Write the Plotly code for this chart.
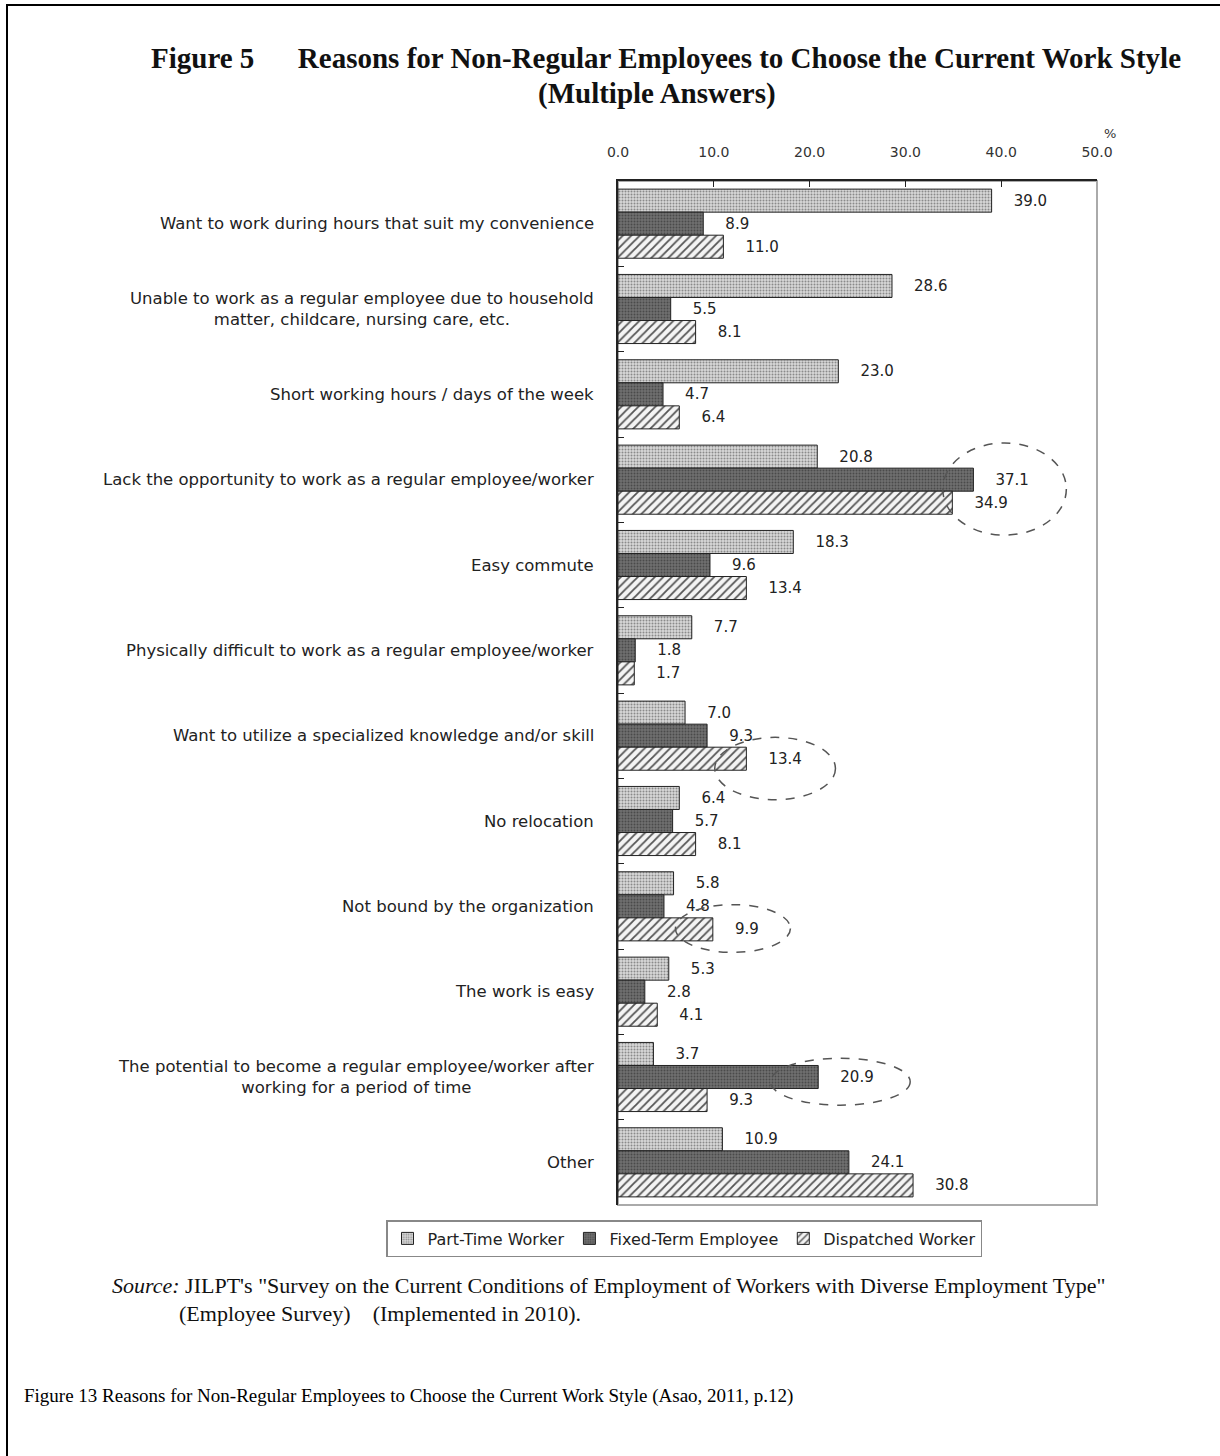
import plotly.graph_objects as go

# Survey categories (top to bottom) and shares by employment type (%)
categories = [
    "Want to work during hours that suit my convenience",
    "Unable to work as a regular employee due to household<br>matter, childcare, nursing care, etc.",
    "Short working hours / days of the week",
    "Lack the opportunity to work as a regular employee/worker",
    "Easy commute",
    "Physically difficult to work as a regular employee/worker",
    "Want to utilize a specialized knowledge and/or skill",
    "No relocation",
    "Not bound by the organization",
    "The work is easy",
    "The potential to become a regular employee/worker after<br>working for a period of time",
    "Other",
]
part_time = [39.0, 28.6, 23.0, 20.8, 18.3, 7.7, 7.0, 6.4, 5.8, 5.3, 3.7, 10.9]
fixed_term = [8.9, 5.5, 4.7, 37.1, 9.6, 1.8, 9.3, 5.7, 4.8, 2.8, 20.9, 24.1]
dispatched = [11.0, 8.1, 6.4, 34.9, 13.4, 1.7, 13.4, 8.1, 9.9, 4.1, 9.3, 30.8]
series_names = ["Part-Time Worker", "Fixed-Term Employee", "Dispatched Worker"]
x_ticks = [0, 10, 20, 30, 40, 50]

FIG_W, FIG_H = 1220, 1456
L, T, R, B = 618, 181, 1097, 1205
PW, PH = R - L, B - T


def px(x):
    return (x - L) / PW


def py(y):
    return (B - y) / PH


SANS = "DejaVu Sans"
SERIF = "Liberation Serif"
NB = "\u00a0"

styles = [
    dict(shape=".", bgcolor="#d8d8d8", fgcolor="#8a8a8a", size=3, solidity=0.35),
    dict(shape=".", bgcolor="#707070", fgcolor="#4a4a4a", size=3, solidity=0.35),
    dict(shape="/", bgcolor="#f4f4f4", fgcolor="#555555", size=6, solidity=0.3),
]

fig = go.Figure()
for name, vals, st in zip(series_names, [part_time, fixed_term, dispatched], styles):
    fig.add_trace(go.Bar(
        name=name, x=vals, y=categories, orientation="h",
        marker=dict(color=st["bgcolor"], pattern=dict(fillmode="replace", **st),
                    line=dict(color="#222222", width=1)),
        text=vals, texttemplate=NB * 4 + "%{x:.1f}", textposition="outside",
        textfont=dict(family=SANS, size=15, color="#222222"),
        cliponaxis=False,
    ))

# Category labels: right-anchored blocks with centred lines
annotations = []
for c in categories:
    annotations.append(dict(
        x=px(596), xref="paper", y=c, yref="y", text=c, showarrow=False,
        xanchor="right", yanchor="middle", align="center",
        font=dict(family=SANS, size=16.5, color="#222222"),
    ))

# Title block
annotations.append(dict(
    x=px(666), y=py(58), xref="paper", yref="paper", showarrow=False,
    text="<b>Figure 5" + NB * 6 + "Reasons for Non-Regular Employees to Choose the Current Work Style</b>",
    xanchor="center", yanchor="middle",
    font=dict(family=SERIF, size=29, color="#111111"),
))
annotations.append(dict(
    x=px(657), y=py(93), xref="paper", yref="paper", showarrow=False,
    text="<b>(Multiple Answers)</b>",
    xanchor="center", yanchor="middle",
    font=dict(family=SERIF, size=29, color="#111111"),
))
annotations.append(dict(
    x=px(1110), y=py(133), xref="paper", yref="paper", showarrow=False, text="%",
    xanchor="center", yanchor="middle",
    font=dict(family=SANS, size=13, color="#333333"),
))
# Source note
annotations.append(dict(
    x=px(110), y=py(1285), xref="paper", yref="paper", showarrow=False,
    xanchor="left", yanchor="middle",
    text="<i>Source:</i> JILPT's \"Survey on the Current Conditions of Employment of Workers with Diverse Employment Type\"",
    font=dict(family=SERIF, size=22, color="#111111"),
))
annotations.append(dict(
    x=px(177), y=py(1313), xref="paper", yref="paper", showarrow=False,
    xanchor="left", yanchor="middle",
    text="(Employee Survey)" + NB * 4 + "(Implemented in 2010).",
    font=dict(family=SERIF, size=22, color="#111111"),
))
# Caption
annotations.append(dict(
    x=px(22), y=py(1396), xref="paper", yref="paper", showarrow=False,
    xanchor="left", yanchor="middle",
    text="Figure 13 Reasons for Non-Regular Employees to Choose the Current Work Style (Asao, 2011, p.12)",
    font=dict(family=SERIF, size=19, color="#000000"),
))

shapes = [
    # plot frame (right/bottom grey)
    dict(type="rect", xref="paper", yref="paper", x0=0, x1=1, y0=0, y1=1,
         line=dict(color="#aaaaaa", width=2), layer="below"),
    # outer page border
    dict(type="path", xref="paper", yref="paper",
         path=f"M {px(7)},{py(1460)} L {px(7)},{py(5)} L {px(1222)},{py(5)}",
         line=dict(color="#000000", width=2)),
]
# Dashed ellipses highlighting notable values
for x0, x1, y0, y1 in [(33.9, 46.8, 2.57, 3.65), (10.1, 22.7, 6.02, 6.75),
                       (6.0, 18.0, 7.98, 8.54), (15.9, 30.5, 9.78, 10.33)]:
    shapes.append(dict(type="circle", xref="x", yref="y", x0=x0, x1=x1, y0=y0, y1=y1,
                       line=dict(color="#555555", width=1.5, dash="dash")))

fig.update_layout(
    width=FIG_W, height=FIG_H,
    margin=dict(l=L, r=FIG_W - R, t=T, b=FIG_H - B),
    paper_bgcolor="white", plot_bgcolor="white",
    barmode="group", bargap=0.19, bargroupgap=0,
    showlegend=True,
    legend=dict(
        orientation="h", x=px(386), y=py(1220), xanchor="left", yanchor="top",
        bordercolor="#888888", borderwidth=1.5, bgcolor="white",
        font=dict(family=SANS, size=16, color="#222222"), traceorder="normal",
        itemwidth=30,
    ),
    xaxis=dict(
        side="top", range=[0, 50], tickvals=x_ticks, tickformat=".1f",
        ticks="inside", ticklen=6, tickcolor="#222222",
        showline=True, linecolor="#222222", linewidth=2,
        showgrid=False, zeroline=False, ticklabelstandoff=16,
        tickfont=dict(family=SANS, size=14, color="#333333"),
    ),
    yaxis=dict(
        autorange="reversed", showticklabels=False, tickson="boundaries",
        ticks="inside", ticklen=6, tickcolor="#222222",
        showline=True, linecolor="#222222", linewidth=2, showgrid=False,
    ),
    annotations=annotations,
    shapes=shapes,
)

fig.write_html("out.html")
